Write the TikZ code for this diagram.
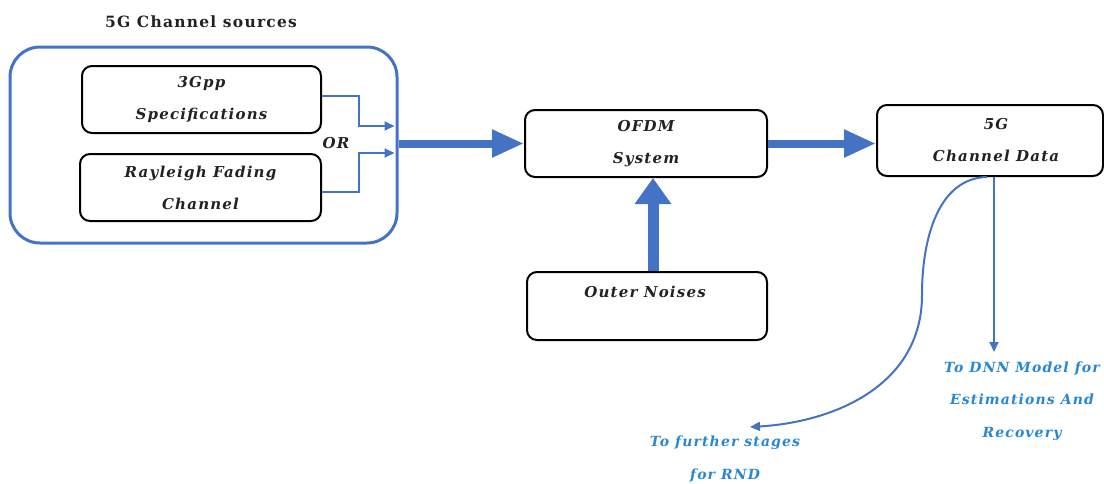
\documentclass[tikz,border=0pt]{standalone}
\usepackage{fontspec}
\setmainfont{DejaVu Serif}
\newfontfamily\lblfont[LetterSpace=8]{DejaVu Serif}
\usetikzlibrary{arrows.meta,calc}
\definecolor{linkblue}{RGB}{68,114,196}
\definecolor{notetext}{RGB}{40,135,210}
\definecolor{boxtext}{RGB}{34,34,34}
\tikzset{
  blockbox/.style={draw=black, line width=2pt, rounded corners=10pt, inner sep=0pt},
  boxlabel/.style={align=center, text=boxtext, inner sep=0pt,
    font=\lblfont\bfseries\itshape\fontsize{15}{32}\selectfont},
  groupbox/.style={draw=linkblue, line width=3pt, rounded corners=30pt, inner sep=0pt},
  thinlink/.style={draw=linkblue, line width=2pt, -{Triangle[length=10pt,width=9pt]}},
  thicklink/.style={draw=linkblue, line width=8pt, -{Triangle[length=32pt,width=26pt]}},
  notetxt/.style={text=notetext, align=center, inner sep=0pt,
    font=\lblfont\bfseries\itshape\fontsize{14}{32.5}\selectfont}
}
\begin{document}
\begin{tikzpicture}[x=1pt, y=-1pt]
\useasboundingbox (0,0) rectangle (1104,483);

% source group
\node[font=\lblfont\bfseries\fontsize{15.5}{18}\selectfont, text=boxtext] (title) at (201,22) {5G Channel sources};
\node[groupbox, minimum width=387pt, minimum height=196pt] (group) at (203.5,145) {};
\node[blockbox, minimum width=239pt, minimum height=67pt] (gpp) at (201.5,99.5) {};
\node[boxlabel] (gpplbl) at (gpp) {3Gpp\\Specifications};
\node[blockbox, minimum width=241pt, minimum height=67pt] (ray) at (200.5,187.5) {};
\node[boxlabel] (raylbl) at (ray) {Rayleigh Fading\\Channel};
\node[boxlabel] (or) at (336,143) {OR};

% processing chain
\node[blockbox, minimum width=242pt, minimum height=67pt] (ofdm) at (646,143.5) {};
\node[boxlabel] (ofdmlbl) at (ofdm) {OFDM\\System};
\node[blockbox, minimum width=226pt, minimum height=71pt] (data) at (990,140.5) {};
\node[boxlabel] (datalbl) at ([xshift=6pt]data.center) {5G\\Channel Data};
\node[blockbox, minimum width=240pt, minimum height=68pt] (noise) at (647,306) {};
\node[boxlabel] (noiselbl) at (645,292) {Outer Noises};

% outputs
\coordinate (dnntip) at (994,352);
\coordinate (rndtip) at (750,427);
\node[notetxt] (dnn) at (1022,401) {To DNN Model for\\Estimations And\\Recovery};
\node[notetxt] (rnd) at (725,459) {To further stages\\for RND};

% branch inputs into the group border
\coordinate (in1) at ($(group.east)+(-4,-19)$);
\coordinate (in2) at ($(group.east)+(-4,8)$);
\draw[thinlink] ([yshift=3.5pt]gpp.east) -- ++(37,0) |- (in1);
\draw[thinlink] ([yshift=-4pt]ray.east) -- ++(37,0) |- (in2);

% main flow
\draw[thicklink] (ofdm.west -| group.east) -- (ofdm.west);
\draw[thicklink] (ofdm.east) -- (ofdm.east -| data.west);
\draw[thicklink, line width=11pt, -{Triangle[length=26pt,width=35pt]}]
  ([xshift=6pt]noise.north) -- ([xshift=6pt]noise.north |- ofdm.south);

% data outputs
\draw[thinlink] (data.south -| dnntip) -- (dnntip);
\draw[thinlink] ([xshift=-3pt]data.south) .. controls (940,178) and (922,235) .. (922,295)
  .. controls (922,385) and (835,422) .. (rndtip);
\end{tikzpicture}
\end{document}
